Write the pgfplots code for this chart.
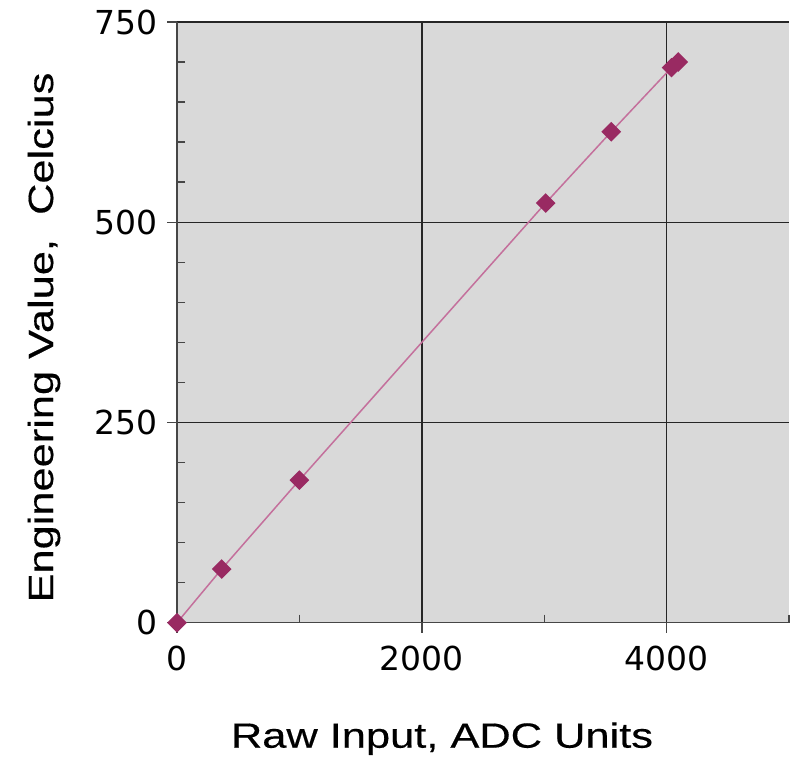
\documentclass[border=0pt]{standalone}
\usepackage{fontspec}
\setmainfont{Liberation Sans}
\newfontfamily\tickfont{DejaVu Sans}
\newfontfamily\labelfont[FakeStretch=1.24,FakeBold=0.4]{Liberation Sans}
\usepackage{pgfplots}
\pgfplotsset{compat=1.18}
\definecolor{plotbg}{RGB}{217,217,217}
\definecolor{markcol}{RGB}{153,42,98}
\definecolor{linecol}{RGB}{196,112,156}
\definecolor{axcol}{RGB}{70,70,70}
\begin{document}
\begin{tikzpicture}
\useasboundingbox (0,0) rectangle (396pt,381.5pt);
\begin{axis}[
    at={(88.5pt,70.15pt)}, anchor=south west,
    scale only axis, width=306pt, height=300.35pt,
    xmin=0, xmax=5000, ymin=0, ymax=750,
    axis x line=bottom, axis y line=left,
    axis line style={-, axcol, line width=0.7pt},
    axis background/.style={fill=plotbg},
    xtick={0,2000,4000}, minor xtick={1000,3000,5000},
    ytick={0,250,500,750}, minor ytick={50,100,150,200,300,350,400,450,550,600,650,700},
    grid=major,
    major grid style={black!85, line width=0.7pt},
    tick align=outside,
    major tick length=5pt, minor tick length=-4pt,
    tick style={axcol, line width=0.7pt},
    /pgf/number format/1000 sep={},
    /pgf/number format/assume math mode=true,
    ticklabel style={font=\tickfont\fontsize{16.5}{18}\selectfont},
    xticklabel style={yshift=-3pt},
    yticklabel style={xshift=-1pt},
    clip=false,
  ]
  \addplot[linecol, line width=0.75pt, mark=square*, mark size=3.1pt,
    mark options={markcol, fill=markcol, rotate=45, solid}] coordinates {
    (0,0) (365,67) (1000,178) (3012,524) (3548,613) (4040,693) (4095,700)};
\end{axis}
\node[anchor=base, font=\labelfont\fontsize{17.5}{20}\selectfont] at (221pt,7.65pt)
  {Raw Input, ADC Units};
\node[anchor=base, rotate=90, font=\labelfont\fontsize{17.5}{20}\selectfont] at (26.5pt,212.75pt)
  {Engineering Value,\ \ Celcius};
\end{tikzpicture}
\end{document}
